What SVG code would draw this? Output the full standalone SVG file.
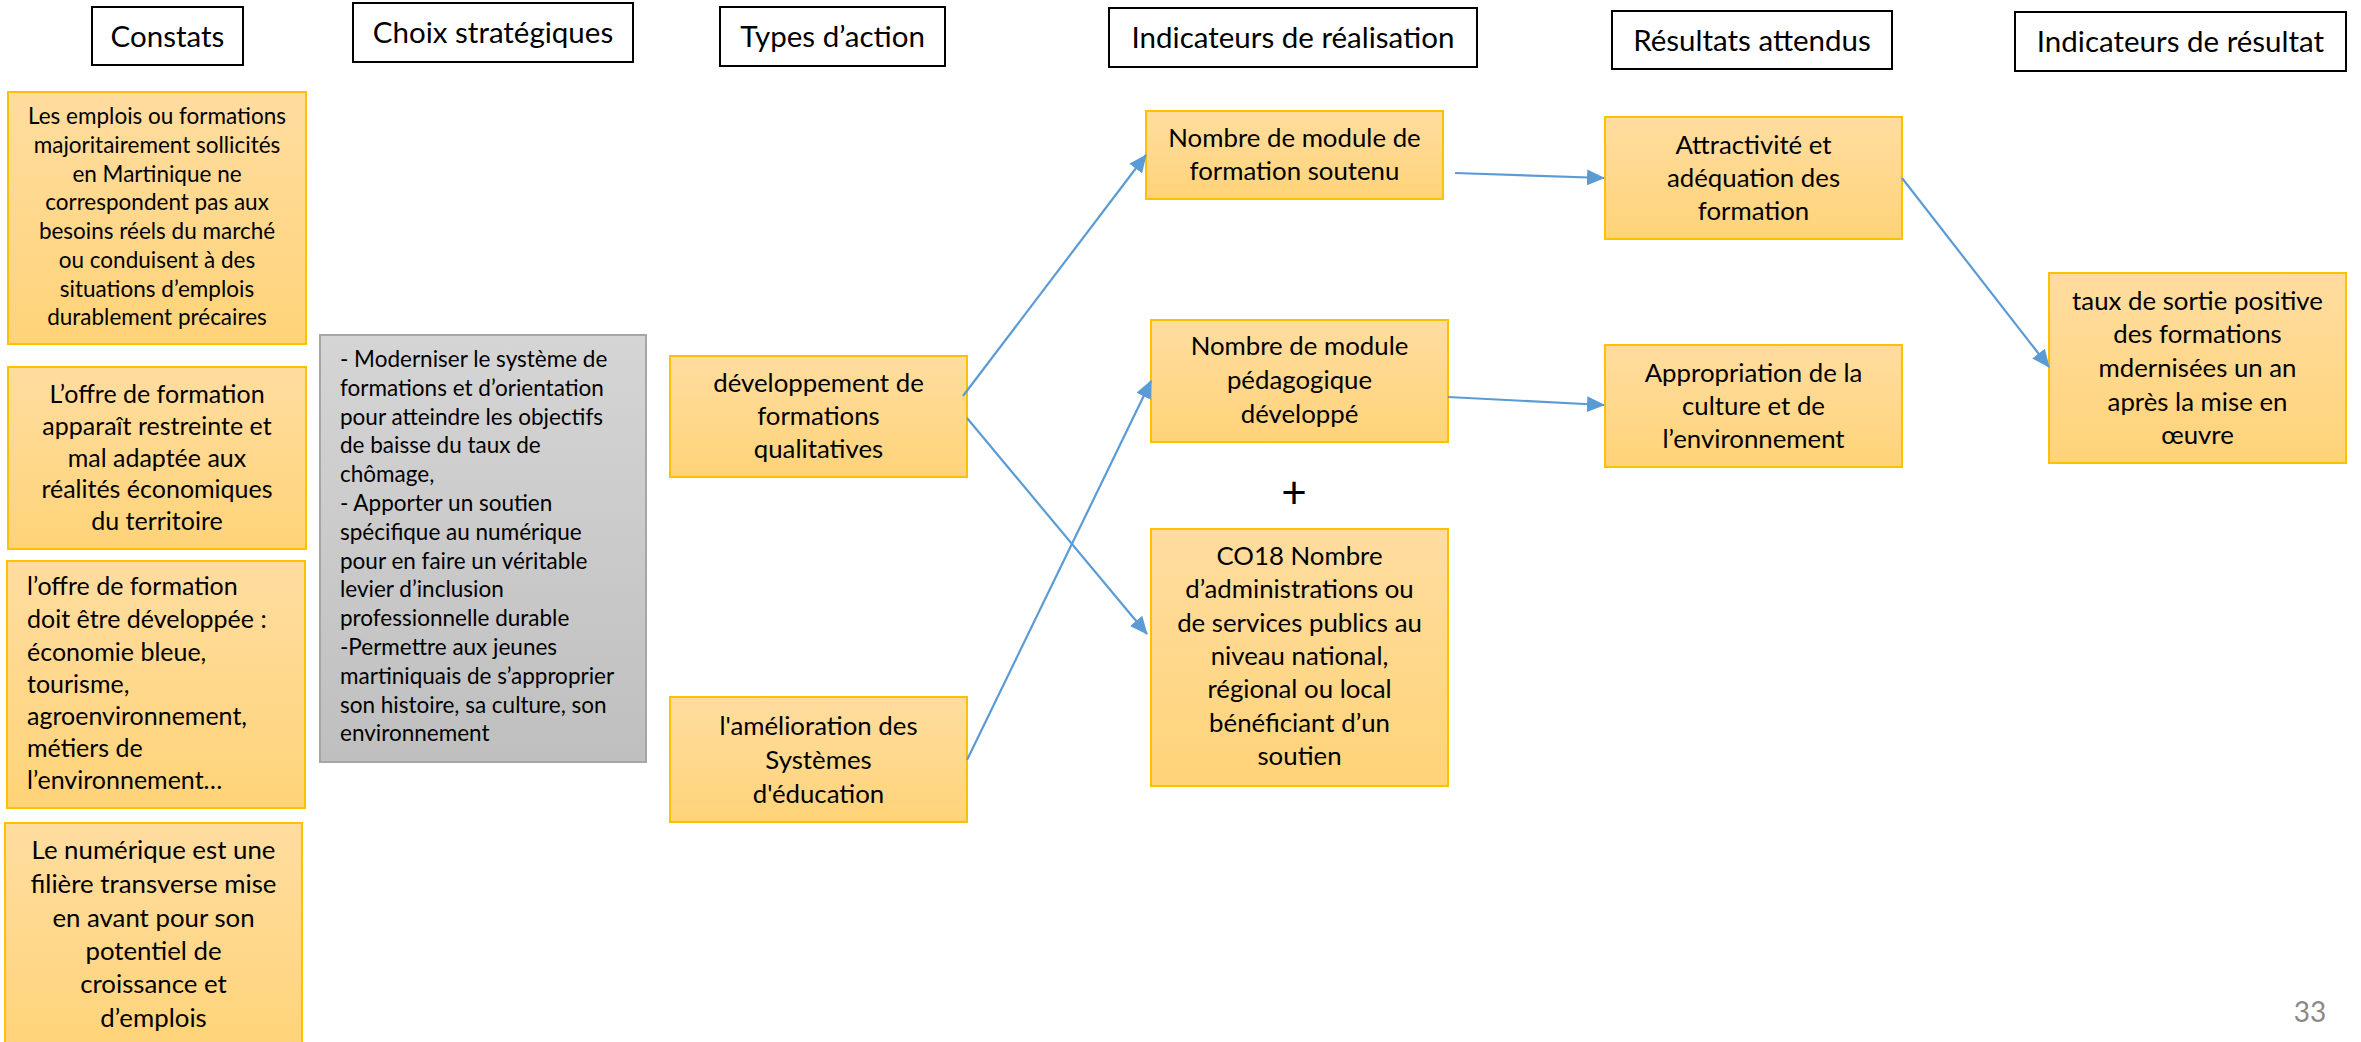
<svg xmlns="http://www.w3.org/2000/svg" width="2361" height="1042" viewBox="0 0 2361 1042">
<defs>
<linearGradient id="og" x1="0" y1="0" x2="0" y2="1">
<stop offset="0" stop-color="#FFDDA0"/>
<stop offset="1" stop-color="#FFD378"/>
</linearGradient>
<linearGradient id="gg" x1="0" y1="0" x2="0" y2="1">
<stop offset="0" stop-color="#D5D5D5"/>
<stop offset="1" stop-color="#BFBFBF"/>
</linearGradient>
<marker id="ah" markerUnits="userSpaceOnUse" markerWidth="18" markerHeight="16" viewBox="0 0 18 16" refX="17" refY="8" orient="auto">
<path d="M0,0 L18,8 L0,16 Z" fill="#5B9BD5"/>
</marker>
</defs>
<style>
.hdr{fill:#fff;stroke:#000;stroke-width:2}
.ob{fill:url(#og);stroke:#FFC000;stroke-width:2}
.gb{fill:url(#gg);stroke:#A6A6A6;stroke-width:2}
text{font-family:Lato,"Open Sans","Liberation Sans",sans-serif;fill:#000}
.ht{font-size:29.5px;text-anchor:middle}
.c{text-anchor:middle}
.s1{font-size:22.5px}
.s2{font-size:25px}
.s3{font-size:25.8px}
.cn{stroke:#5B9BD5;stroke-width:2.2;fill:none;marker-end:url(#ah)}
</style>
<rect width="2361" height="1042" fill="#fff"/>

<g id="h-constats"><rect class="hdr" x="92" y="7" width="151" height="58"/><text class="ht" x="167.5" y="47">Constats</text></g>
<g id="h-choix"><rect class="hdr" x="353" y="3" width="280" height="59"/><text class="ht" x="493" y="43">Choix stratégiques</text></g>
<g id="h-types"><rect class="hdr" x="720" y="7" width="225" height="59"/><text class="ht" x="832.5" y="47">Types d’action</text></g>
<g id="h-indreal"><rect class="hdr" x="1109" y="8" width="368" height="59"/><text class="ht" x="1293" y="48">Indicateurs de réalisation</text></g>
<g id="h-resatt"><rect class="hdr" x="1612" y="11" width="280" height="58"/><text class="ht" x="1752" y="51">Résultats attendus</text></g>
<g id="h-indres"><rect class="hdr" x="2015" y="12" width="331" height="59"/><text class="ht" x="2180.5" y="52">Indicateurs de résultat</text></g>

<g id="constat1"><rect class="ob" x="8" y="92" width="298" height="252"/>
<text class="s1 c"><tspan x="157" y="124">Les emplois ou formations</tspan><tspan x="157" y="153">majoritairement sollicités</tspan><tspan x="157" y="182">en Martinique ne</tspan><tspan x="157" y="210">correspondent pas aux</tspan><tspan x="157" y="239">besoins réels du marché</tspan><tspan x="157" y="268">ou conduisent à des</tspan><tspan x="157" y="297">situations d’emplois</tspan><tspan x="157" y="325">durablement précaires</tspan></text></g>

<g id="constat2"><rect class="ob" x="8" y="367" width="298" height="182"/>
<text class="s2 c"><tspan x="157" y="403">L’offre de formation</tspan><tspan x="157" y="435">apparaît restreinte et</tspan><tspan x="157" y="467">mal adaptée aux</tspan><tspan x="157" y="498">réalités économiques</tspan><tspan x="157" y="530">du territoire</tspan></text></g>

<g id="constat3"><rect class="ob" x="7" y="561" width="298" height="247"/>
<text class="s2"><tspan x="27" y="595">l’offre de formation</tspan><tspan x="27" y="628">doit être développée :</tspan><tspan x="27" y="661">économie bleue,</tspan><tspan x="27" y="693">tourisme,</tspan><tspan x="27" y="725">agroenvironnement,</tspan><tspan x="27" y="757">métiers de</tspan><tspan x="27" y="789">l’environnement…</tspan></text></g>

<g id="constat4"><rect class="ob" x="5" y="823" width="297" height="230"/>
<text class="s3 c"><tspan x="153.5" y="859">Le numérique est une</tspan><tspan x="153.5" y="893">filière transverse mise</tspan><tspan x="153.5" y="927">en avant pour son</tspan><tspan x="153.5" y="960">potentiel de</tspan><tspan x="153.5" y="993">croissance et</tspan><tspan x="153.5" y="1027">d’emplois</tspan></text></g>

<g id="choix"><rect class="gb" x="320" y="335" width="326" height="427"/>
<text class="s1"><tspan x="340" y="367">- Moderniser le système de</tspan><tspan x="340" y="396">formations et d’orientation</tspan><tspan x="340" y="425">pour atteindre les objectifs</tspan><tspan x="340" y="453">de baisse du taux de</tspan><tspan x="340" y="482">chômage,</tspan><tspan x="340" y="511">- Apporter un soutien</tspan><tspan x="340" y="540">spécifique au numérique</tspan><tspan x="340" y="569">pour en faire un véritable</tspan><tspan x="340" y="597">levier d’inclusion</tspan><tspan x="340" y="626">professionnelle durable</tspan><tspan x="340" y="655">-Permettre aux jeunes</tspan><tspan x="340" y="684">martiniquais de s’approprier</tspan><tspan x="340" y="713">son histoire, sa culture, son</tspan><tspan x="340" y="741">environnement</tspan></text></g>

<g id="type1"><rect class="ob" x="670" y="356" width="297" height="121"/>
<text class="s3 c"><tspan x="818.5" y="392">développement de</tspan><tspan x="818.5" y="425">formations</tspan><tspan x="818.5" y="458">qualitatives</tspan></text></g>

<g id="type2"><rect class="ob" x="670" y="697" width="297" height="125"/>
<text class="s3 c"><tspan x="818.5" y="735">l'amélioration des</tspan><tspan x="818.5" y="769">Systèmes</tspan><tspan x="818.5" y="803">d'éducation</tspan></text></g>

<g id="ind1"><rect class="ob" x="1146" y="111" width="297" height="88"/>
<text class="s3 c"><tspan x="1294.5" y="147">Nombre de module de</tspan><tspan x="1294.5" y="180">formation soutenu</tspan></text></g>

<g id="ind2"><rect class="ob" x="1151" y="320" width="297" height="122"/>
<text class="s3 c"><tspan x="1299.5" y="355">Nombre de module</tspan><tspan x="1299.5" y="389">pédagogique</tspan><tspan x="1299.5" y="423">développé</tspan></text></g>

<g id="plus"><text x="1294" y="508" font-size="44" text-anchor="middle">+</text></g>

<g id="ind3"><rect class="ob" x="1151" y="529" width="297" height="257"/>
<text class="s3 c"><tspan x="1299.5" y="565">CO18 Nombre</tspan><tspan x="1299.5" y="598">d’administrations ou</tspan><tspan x="1299.5" y="632">de services publics au</tspan><tspan x="1299.5" y="665">niveau national,</tspan><tspan x="1299.5" y="698">régional ou local</tspan><tspan x="1299.5" y="732">bénéficiant d’un</tspan><tspan x="1299.5" y="765">soutien</tspan></text></g>

<g id="res1"><rect class="ob" x="1605" y="117" width="297" height="122"/>
<text class="s3 c"><tspan x="1753.5" y="154">Attractivité et</tspan><tspan x="1753.5" y="187">adéquation des</tspan><tspan x="1753.5" y="220">formation</tspan></text></g>

<g id="res2"><rect class="ob" x="1605" y="345" width="297" height="122"/>
<text class="s3 c"><tspan x="1753.5" y="382">Appropriation de la</tspan><tspan x="1753.5" y="415">culture et de</tspan><tspan x="1753.5" y="448">l’environnement</tspan></text></g>

<g id="indres1"><rect class="ob" x="2049" y="273" width="297" height="190"/>
<text class="s3 c"><tspan x="2197.5" y="310">taux de sortie positive</tspan><tspan x="2197.5" y="343">des formations</tspan><tspan x="2197.5" y="377">mdernisées un an</tspan><tspan x="2197.5" y="411">après la mise en</tspan><tspan x="2197.5" y="444">œuvre</tspan></text></g>

<g id="connectors">
<line class="cn" x1="963" y1="396" x2="1146" y2="155"/>
<line class="cn" x1="967" y1="418" x2="1147" y2="634"/>
<line class="cn" x1="967" y1="760" x2="1151" y2="381"/>
<line class="cn" x1="1455" y1="173" x2="1604" y2="178"/>
<line class="cn" x1="1448" y1="397" x2="1604" y2="405"/>
<line class="cn" x1="1902" y1="178" x2="2049" y2="367"/>
</g>

<text x="2310" y="1022" font-size="28" text-anchor="middle" style="fill:#898989">33</text>
</svg>
